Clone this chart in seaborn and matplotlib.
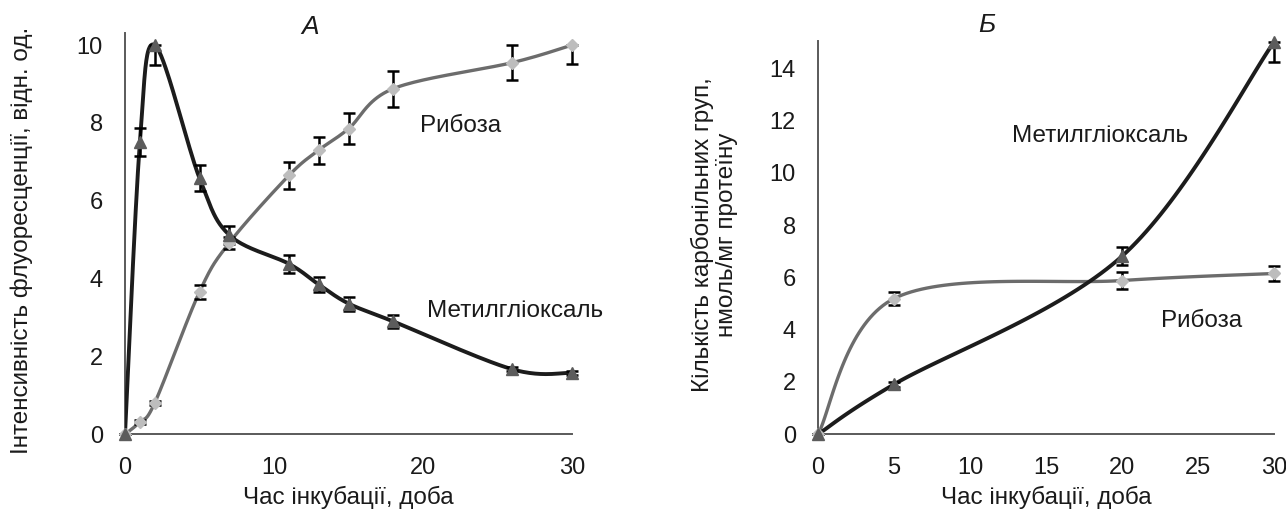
import numpy as np
import matplotlib
matplotlib.use("Agg")
import matplotlib.pyplot as plt
import seaborn as sns

# --- panel A: fluorescence intensity ---
days_a = [0, 1, 2, 5, 7, 11, 13, 15, 18, 26, 30]
mgo_a = [0, 7.5, 10.0, 6.58, 5.12, 4.38, 3.85, 3.36, 2.9, 1.67, 1.58]
mgo_a_lo = [0, 0.35, 0.5, 0.32, 0.22, 0.23, 0.19, 0.18, 0.16, 0.05, 0.05]
mgo_a_hi = [0, 0.38, 0.0, 0.33, 0.22, 0.23, 0.19, 0.18, 0.16, 0.05, 0.05]
rib_a = [0, 0.32, 0.81, 3.66, 4.92, 6.65, 7.3, 7.85, 8.88, 9.55, 10.0]
rib_a_lo = [0, 0.05, 0.05, 0.18, 0.15, 0.35, 0.35, 0.4, 0.46, 0.45, 0.48]
rib_a_hi = [0, 0.05, 0.05, 0.18, 0.15, 0.35, 0.35, 0.4, 0.46, 0.45, 0.0]

# --- panel B: carbonyl groups ---
days_b = [0, 5, 20, 30]
mgo_b = [0, 1.91, 6.81, 15.0]
mgo_b_lo = [0, 0.1, 0.35, 0.75]
mgo_b_hi = [0, 0.1, 0.35, 0.0]
rib_b = [0, 5.19, 5.88, 6.15]
rib_b_lo = [0, 0.26, 0.31, 0.29]
rib_b_hi = [0, 0.26, 0.31, 0.29]

BLACK = "#1c1c1c"
GREY_LINE = "#6c6c6c"
TRI = "#5c5c5c"
DIA = "#bdbdbd"
AXC = "#5a5a5a"
TXT = "#1a1a1a"


def smooth(xs, ys, n=40):
    # Excel-like smoothed line: Catmull-Rom through the points as cubic Bezier
    p = np.column_stack([xs, ys]).astype(float)
    ext = np.vstack([p[:1], p, p[-1:]])
    t = np.linspace(0, 1, n)[:, None]
    out = []
    for i in range(len(p) - 1):
        p0, p1 = ext[i + 1], ext[i + 2]
        c1 = p0 + (ext[i + 2] - ext[i]) / 6
        c2 = p1 - (ext[i + 3] - ext[i + 1]) / 6
        seg = ((1 - t) ** 3) * p0 + 3 * ((1 - t) ** 2) * t * c1 + 3 * (1 - t) * t ** 2 * c2 + t ** 3 * p1
        out.append(seg if i == 0 else seg[1:])
    seg = np.vstack(out)
    return seg[:, 0], seg[:, 1]


def series(ax, x, y, lo, hi, line_c, lw, mark, mark_c, ms):
    sx, sy = smooth(x, y)
    sns.lineplot(x=sx, y=sy, sort=False, estimator=None, color=line_c, lw=lw, ax=ax, zorder=3)
    ax.errorbar(x, y, yerr=[lo, hi], fmt="none", ecolor="black", elinewidth=1.8,
                capsize=4.5, capthick=1.8, zorder=4, clip_on=False)
    ax.plot(x, y, ls="none", marker=mark, ms=ms, mfc=mark_c, mec=mark_c, zorder=5, clip_on=False)


sns.set_style("white")
plt.rcParams["font.family"] = ["Liberation Sans", "DejaVu Sans"]

W, H = 1286, 518
fig = plt.figure(figsize=(W / 100, H / 100), dpi=100)
ax1 = fig.add_axes([125 / W, 1 - 434.3 / H, 447 / W, (434.3 - 33) / H])
ax2 = fig.add_axes([818 / W, 1 - 434.3 / H, 456 / W, (434.3 - 41) / H])

series(ax1, days_a, rib_a, rib_a_lo, rib_a_hi, GREY_LINE, 2.4, "D", DIA, 6.5)
series(ax1, days_a, mgo_a, mgo_a_lo, mgo_a_hi, BLACK, 2.8, "^", TRI, 8)
series(ax2, days_b, rib_b, rib_b_lo, rib_b_hi, GREY_LINE, 2.4, "D", DIA, 6.5)
series(ax2, days_b, mgo_b, mgo_b_lo, mgo_b_hi, BLACK, 2.8, "^", TRI, 8)

ax1.set_xlim(0, 30)
ax1.set_ylim(0, 10.31)
ax1.set_xticks([0, 10, 20, 30])
ax1.set_yticks([0, 2, 4, 6, 8, 10])
ax2.set_xlim(0, 30)
ax2.set_ylim(0, 15.04)
ax2.set_xticks([0, 5, 10, 15, 20, 25, 30])
ax2.set_yticks([0, 2, 4, 6, 8, 10, 12, 14])

for ax in (ax1, ax2):
    sns.despine(ax=ax)
    for s in ("left", "bottom"):
        ax.spines[s].set_color(AXC)
        ax.spines[s].set_linewidth(1.4)
    ax.tick_params(direction="out", length=7, width=1.4, color=AXC, labelsize=17,
                   labelcolor=TXT, pad=9)
    ax.set_xlabel("Час інкубації, доба", fontsize=17.5, color=TXT, labelpad=5)

ax1.set_ylabel("Інтенсивність флуоресценції, відн. од.", fontsize=17.5, color=TXT)
ax1.yaxis.set_label_coords(-0.205, 0.484)
ax2.set_ylabel("Кількість карбонільних груп,\nнмоль/мг протеїну", fontsize=17.5,
               color=TXT, linespacing=1.1)
ax2.yaxis.set_label_coords(-0.175, 0.507)

ax1.text(22.5, 7.92, "Рибоза", fontsize=17.5, ha="center", va="center", color=TXT)
ax1.text(26.2, 3.17, "Метилгліоксаль", fontsize=17.5, ha="center", va="center", color=TXT)
ax2.text(18.56, 11.39, "Метилгліоксаль", fontsize=17.5, ha="center", va="center", color=TXT)
ax2.text(25.26, 4.33, "Рибоза", fontsize=17.5, ha="center", va="center", color=TXT)

fig.text(310 / W, 1 - 27 / H, "А", fontsize=19, style="italic", ha="center", va="center", color=TXT)
fig.text(987 / W, 1 - 25 / H, "Б", fontsize=19, style="italic", ha="center", va="center", color=TXT)

fig.savefig("out.png", dpi=100)
plt.close(fig)
